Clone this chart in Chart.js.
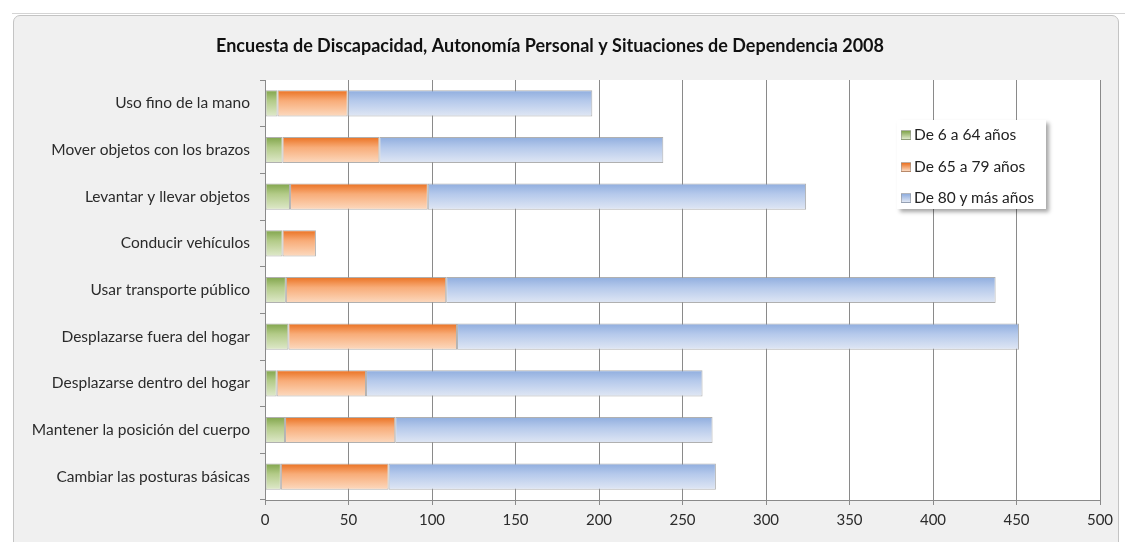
<!DOCTYPE html>
<html>
<head>
    <title>Encuesta de Discapacidad 2008</title>
    <script src="https://cdn.jsdelivr.net/npm/chart.js"></script>
    <style>
        html, body { margin: 0; padding: 0; background: #fff; }
        #wrap { position: relative; width: 1125px; height: 542px; overflow: hidden; }
        #topline { position: absolute; left: 12px; top: 13px; width: 1113px; height: 1px; background: #d4d4d4; }
        #frame { position: absolute; left: 13px; top: 15px; width: 1106px; height: 540px;
                 background: #f0f0f0; border: 1px solid #c4c4c4; border-radius: 7px; box-sizing: border-box; }
        #myChart { position: absolute; left: 0; top: 0; }
        #legend { position: absolute; left: 897px; top: 120px; width: 149px; height: 89px;
                  background: #fff; box-shadow: 3px 3px 4px rgba(0,0,0,0.35);
                  font-family: Lato, sans-serif; font-size: 15.5px; color: #222; box-sizing: border-box; padding-top: 2px; }
        #legend div { height: 31.5px; line-height: 25px; padding-left: 4px; white-space: nowrap; }
        #legend span.sw { display: inline-block; width: 8px; height: 8px; margin-right: 3px; vertical-align: 0px; }
    </style>
</head>
<body>
<div id="wrap">
    <div id="topline"></div>
    <div id="frame"></div>
    <canvas id="myChart" width="1125" height="542"></canvas>
    <div id="legend"></div>
</div>

<script>
    const title = 'Encuesta de Discapacidad, Autonomía Personal y Situaciones de Dependencia 2008';
    const categories = [
        'Uso fino de la mano',
        'Mover objetos con los brazos',
        'Levantar y llevar objetos',
        'Conducir vehículos',
        'Usar transporte público',
        'Desplazarse fuera del hogar',
        'Desplazarse dentro del hogar',
        'Mantener la posición del cuerpo',
        'Cambiar las posturas básicas'
    ];
    const seriesNames = ['De 6 a 64 años', 'De 65 a 79 años', 'De 80 y más años'];
    const edad6a64 = [7.5, 10.5, 15, 10.5, 12.5, 14, 7, 12, 9.5];
    const edad65a79 = [42, 58, 82.5, 20, 96, 101, 53.5, 66, 64.5];
    const edad80mas = [146.5, 170, 226.5, null, 329, 336.5, 201.5, 190, 196];
    const xTicks = [0, 50, 100, 150, 200, 250, 300, 350, 400, 450, 500];

    const barPct = 0.56;
    const greenStops = ['#80a44a', '#b3cb88', '#dfe9cb'];
    const orangeStops = ['#ea7020', '#f8ac78', '#fcdac0'];
    const blueStops = ['#8fadde', '#b5c9eb', '#e0e7f4'];

    function barGradient(stops) {
        return function(context) {
            const chart = context.chart;
            const y = chart.scales.y;
            if (!y || !chart.chartArea || context.type !== 'data') return stops[1];
            const c = y.getPixelForValue(context.dataIndex);
            const h = (y.bottom - y.top) / categories.length * barPct;
            const g = chart.ctx.createLinearGradient(0, c - h / 2, 0, c + h / 2);
            g.addColorStop(0, stops[0]);
            g.addColorStop(0.4, stops[1]);
            g.addColorStop(1, stops[2]);
            return g;
        };
    }

    const plotBackground = {
        id: 'plotBackground',
        beforeDraw(chart) {
            const a = chart.chartArea;
            const ctx = chart.ctx;
            ctx.save();
            ctx.fillStyle = '#ffffff';
            ctx.fillRect(a.left, a.top, a.right - a.left, a.bottom - a.top);
            ctx.restore();
        }
    };

    const lineColor = '#8a8a8a';
    const textColor = '#2b2b2b';

    const chart = new Chart(document.getElementById('myChart'), {
        type: 'bar',
        data: {
            labels: categories,
            datasets: [
                { label: seriesNames[0], data: edad6a64, backgroundColor: barGradient(greenStops) },
                { label: seriesNames[1], data: edad65a79, backgroundColor: barGradient(orangeStops) },
                { label: seriesNames[2], data: edad80mas, backgroundColor: barGradient(blueStops) }
            ]
        },
        options: {
            indexAxis: 'y',
            responsive: false,
            animation: false,
            datasets: {
                bar: {
                    barPercentage: barPct,
                    categoryPercentage: 1,
                    borderWidth: 1,
                    borderColor: 'rgba(150,150,150,0.75)',
                    borderSkipped: false
                }
            },
            layout: { padding: { left: 0, right: 25, top: 0, bottom: 0 } },
            scales: {
                x: {
                    stacked: true,
                    min: 0,
                    max: 500,
                    afterBuildTicks: (scale) => { scale.ticks = xTicks.map(v => ({ value: v })); },
                    afterFit: (scale) => { scale.height = 42; },
                    grid: { color: lineColor, tickLength: 5, drawTicks: true },
                    border: { color: lineColor },
                    ticks: { color: textColor, padding: 6, font: { family: 'Lato', size: 15 } }
                },
                y: {
                    stacked: true,
                    afterFit: (scale) => { scale.width = 265; },
                    grid: { drawOnChartArea: false, color: lineColor, tickLength: 5, offset: true },
                    border: { color: lineColor },
                    ticks: { color: textColor, padding: 10, font: { family: 'Lato', size: 15.5 } }
                }
            },
            plugins: {
                legend: { display: false },
                tooltip: { enabled: false },
                title: {
                    display: true,
                    text: title,
                    color: '#111',
                    font: { family: 'Lato', size: 18, weight: 'bold', lineHeight: 1.2 },
                    padding: { top: 35, bottom: 23.4 }
                }
            }
        },
        plugins: [plotBackground]
    });

    // legend built from the dataset labels
    const legendStops = [greenStops, orangeStops, blueStops];
    const legendEl = document.getElementById('legend');
    chart.data.datasets.forEach((ds, i) => {
        const row = document.createElement('div');
        const sw = document.createElement('span');
        sw.className = 'sw';
        sw.style.background = 'linear-gradient(' + legendStops[i][0] + ',' + legendStops[i][2] + ')';
        sw.style.border = '1px solid rgba(150,150,150,0.6)';
        row.appendChild(sw);
        row.appendChild(document.createTextNode(ds.label));
        legendEl.appendChild(row);
    });
</script>

</body>
</html>
